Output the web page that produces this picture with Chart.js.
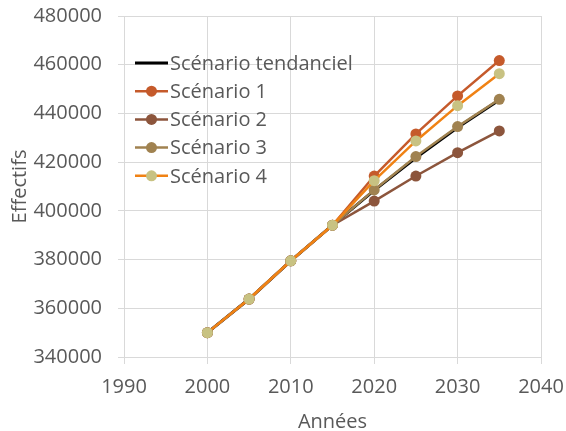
<!DOCTYPE html>
<html lang="fr">
<head>
<meta charset="utf-8">
<title>Effectifs par scénario</title>
<script src="https://cdn.jsdelivr.net/npm/chart.js@4/dist/chart.umd.min.js"></script>
<style>
    body { margin: 0; background: #fff; }
    #chartEffectifs { display: block; }
</style>
</head>
<body>
<canvas id="chartEffectifs" width="566" height="431"></canvas>
<script>
// Données
const annees = [2000, 2005, 2010, 2015, 2020, 2025, 2030, 2035];
const tendanciel = [350000, 363800, 379500, 394100, 408400, 421800, 434200, 445500];
const scenario1 = [350000, 363800, 379500, 394100, 414300, 431600, 447200, 461700];
const scenario2 = [350000, 363800, 379500, 394100, 404000, 414300, 423900, 432800];
const scenario3 = [350000, 363800, 379500, 394100, 408600, 422300, 434600, 445800];
const scenario4 = [350000, 363800, 379500, 394100, 412400, 428700, 443200, 456300];
const nomsSeries = ['Scénario tendanciel', 'Scénario 1', 'Scénario 2', 'Scénario 3', 'Scénario 4'];
const ticksY = [340000, 360000, 380000, 400000, 420000, 440000, 460000, 480000];
const ticksX = [1990, 2000, 2010, 2020, 2030, 2040];

const police = '"Open Sans", sans-serif';
const taille = 20;
const gris = '#595959';

function points(valeurs) {
    return annees.map((a, i) => ({ x: a, y: valeurs[i] }));
}

// Légende dessinée dans la zone du graphique (en haut à gauche)
const legendeInterne = {
    id: 'legendeInterne',
    afterDraw(chart) {
        const c = chart.ctx;
        const x0 = chart.chartArea.left + 11;
        const y0 = chart.chartArea.top + 47;
        chart.data.datasets.slice().sort((a, b) => a.rang - b.rang).forEach((ds, i) => {
            const y = y0 + i * 28.2;
            c.save();
            c.strokeStyle = ds.borderColor;
            c.lineWidth = ds.borderWidth;
            c.beginPath();
            c.moveTo(x0, y);
            c.lineTo(x0 + 33, y);
            c.stroke();
            if (ds.pointRadius > 0) {
                c.fillStyle = ds.pointBackgroundColor;
                c.beginPath();
                c.arc(x0 + 16.5, y, ds.pointRadius, 0, Math.PI * 2);
                c.fill();
            }
            c.fillStyle = gris;
            c.font = taille + 'px ' + police;
            c.textBaseline = 'middle';
            c.fillText(ds.label, x0 + 35, y + 1);
            c.restore();
        });
    }
};

const ctx = document.getElementById('chartEffectifs').getContext('2d');
new Chart(ctx, {
    type: 'line',
    data: {
        datasets: [
            {
                label: nomsSeries[0], rang: 0, order: 4,
                data: points(tendanciel),
                borderColor: '#000000', borderWidth: 3,
                pointRadius: 0, pointBackgroundColor: '#000000'
            },
            {
                label: nomsSeries[1], rang: 1, order: 3,
                data: points(scenario1),
                borderColor: '#C55A2B', borderWidth: 2.5,
                pointRadius: 5.5, pointBackgroundColor: '#C55A2B', pointBorderWidth: 0
            },
            {
                label: nomsSeries[2], rang: 2, order: 2,
                data: points(scenario2),
                borderColor: '#8C553C', borderWidth: 2.5,
                pointRadius: 5.5, pointBackgroundColor: '#8C553C', pointBorderWidth: 0
            },
            {
                label: nomsSeries[3], rang: 3, order: 1,
                data: points(scenario3),
                borderColor: '#A08250', borderWidth: 2.5,
                pointRadius: 5.5, pointBackgroundColor: '#A08250', pointBorderWidth: 0
            },
            {
                label: nomsSeries[4], rang: 4, order: 0,
                data: points(scenario4),
                borderColor: '#F08214', borderWidth: 2.5,
                pointRadius: 5.5, pointBackgroundColor: '#C8C282', pointBorderWidth: 0
            }
        ]
    },
    options: {
        responsive: false,
        animation: false,
        layout: { padding: { top: 16, right: 25, left: 0, bottom: 0 } },
        plugins: {
            legend: { display: false },
            tooltip: { enabled: false }
        },
        scales: {
            x: {
                type: 'linear',
                min: 1990,
                max: 2040,
                afterFit: (scale) => {
                    scale.height = 74;
                    scale.paddingLeft = 0;
                    scale.paddingRight = 0;
                },
                afterBuildTicks: (scale) => { scale.ticks = ticksX.map(v => ({ value: v })); },
                grid: { color: '#D9D9D9', lineWidth: 1, tickLength: 7 },
                border: { color: '#D9D9D9' },
                ticks: {
                    color: gris,
                    font: { family: police, size: taille },
                    padding: 11,
                    maxRotation: 0,
                    callback: (v) => String(v)
                },
                title: {
                    display: true,
                    text: 'Années',
                    color: gris,
                    font: { family: police, size: taille },
                    padding: { top: 4, bottom: -3 }
                }
            },
            y: {
                min: 340000,
                max: 480000,
                afterFit: (scale) => {
                    scale.width = 124;
                    scale.paddingTop = 0;
                    scale.paddingBottom = 0;
                },
                afterBuildTicks: (scale) => { scale.ticks = ticksY.map(v => ({ value: v })); },
                grid: { color: '#D9D9D9', lineWidth: 1, tickLength: 6 },
                border: { color: '#D9D9D9' },
                ticks: {
                    color: gris,
                    font: { family: police, size: taille },
                    padding: 16,
                    callback: (v) => String(v)
                },
                title: {
                    display: true,
                    text: 'Effectifs',
                    color: gris,
                    font: { family: police, size: taille },
                    padding: { top: 8, bottom: 0 }
                }
            }
        }
    },
    plugins: [legendeInterne]
});
</script>
</body>
</html>
